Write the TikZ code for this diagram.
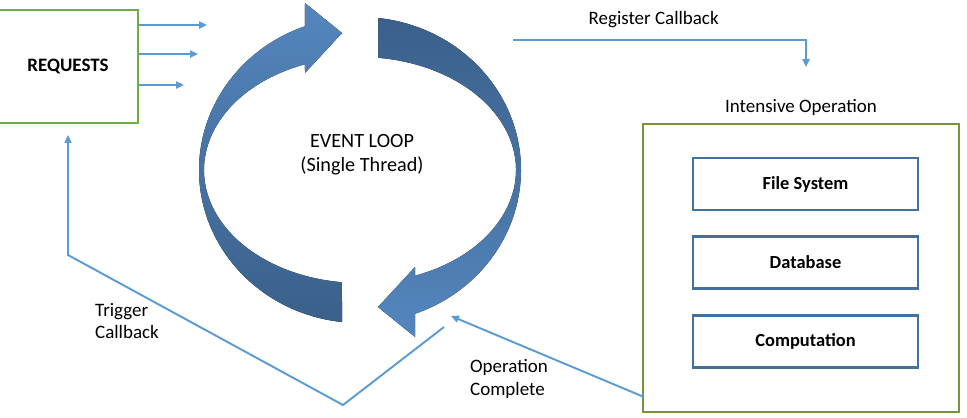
\documentclass[tikz,border=0pt]{standalone}
\usepackage{fontspec}
\setmainfont{Carlito}
\usetikzlibrary{calc, positioning, arrows.meta}
\definecolor{reqgreen}{RGB}{112,173,71}
\definecolor{opsgreen}{RGB}{119,147,60}
\definecolor{boxblue}{RGB}{65,113,156}
\definecolor{linkblue}{RGB}{91,155,213}
\definecolor{looplight}{RGB}{84,134,190}
\definecolor{loopdark}{RGB}{58,96,138}

\begin{document}
\begin{tikzpicture}[x=0.02cm, y=-0.02cm, font=\fontsize{10.8}{12.8}\selectfont,
    greenbox/.style={draw, line width=1.1pt, inner sep=0pt},
    opbox/.style={draw=boxblue, line width=1.4pt, minimum width=4.5cm, minimum height=1.04cm, font=\fontsize{10.5}{12.5}\selectfont\bfseries},
    link/.style={draw=linkblue, line width=1.1pt, -{Triangle[length=4.5pt,width=4pt]}},
    upperband/.style={top color=looplight, bottom color=loopdark},
    lowerband/.style={top color=loopdark, bottom color=looplight}]

  \useasboundingbox (0,0) rectangle (967,417);

  % the loop
  \coordinate (loop) at (360,170);
  \fill[upperband] (loop) ++(96.42:161 and 153)
      arc[start angle=96.42, end angle=250, x radius=161, y radius=153]
      -- (305,3) -- (342,33) -- (305,73)
      -- ($(loop)+(249.35:156 and 113)$)
      arc[start angle=249.35, end angle=96.63, x radius=156, y radius=113] -- cycle;
  \fill[lowerband] (loop) ++(276.42:161 and 153)
      arc[start angle=276.42, end angle=430, x radius=161, y radius=153]
      -- (415,337) -- (378,307) -- (415,267)
      -- ($(loop)+(429.35:156 and 113)$)
      arc[start angle=429.35, end angle=276.63, x radius=156, y radius=113] -- cycle;
  \node[align=center, font=\fontsize{11.5}{13.5}\selectfont] (looptext) at (362,155) {EVENT LOOP\\(Single Thread)};

  % boxes
  \node[greenbox, draw=reqgreen, minimum width=2.8cm, minimum height=2.26cm] (requests) at (68,66.5) {\textbf{REQUESTS}};
  \node[greenbox, draw=opsgreen, minimum width=6.32cm, minimum height=5.76cm] (ops) at (801,268) {};
  \node[above=1pt of ops.north] (opstitle) {Intensive Operation};
  \node[opbox] (files) at (805.5,184) {File System};
  \node[opbox, below=1.57cm of files.center, anchor=center] (db) {Database};
  \node[opbox, below=1.58cm of db.center, anchor=center] (comp) {Computation};

  % connectors
  \coordinate (req1) at (207,25);
  \coordinate (req2) at (198,54);
  \coordinate (req3) at (184,85);
  \draw[link] (requests.east |- req1) -- (req1);
  \draw[link] (requests.east |- req2) -- (req2);
  \draw[link] (requests.east |- req3) -- (req3);

  \coordinate (regstart) at (513,40);
  \coordinate (regend) at (806,67);
  \draw[link] (regstart) -| node[above=3pt, pos=0.24] (regtext) {Register Callback} (regend);

  \coordinate (opstart) at (644,397);
  \coordinate (opend) at (451,316);
  \draw[link] (opstart) -- (opend);
  \node[align=left] (optext) at (509,379) {Operation\\Complete};

  \coordinate (vright) at (444,327);
  \coordinate (vbottom) at (343,405);
  \coordinate (corner) at (68,255);
  \coordinate (trigend) at (68,135);
  \draw[link] (vright) -- (vbottom) -- (corner) -- (trigend);
  \node[align=left] (trigtext) at (127,321) {Trigger\\Callback};

\end{tikzpicture}
\end{document}
